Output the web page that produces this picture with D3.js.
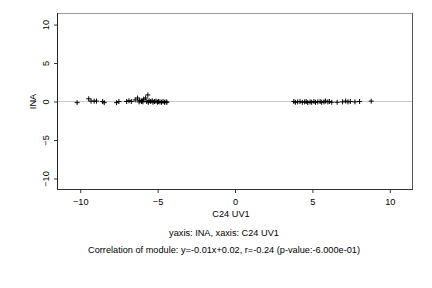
<!DOCTYPE html>
<html>
<head>
<meta charset="utf-8">
<script src="https://cdn.jsdelivr.net/npm/d3@7"></script>
<style>
  body { margin: 0; background: #fff; }
  text { font-family: "Liberation Sans", Arial, sans-serif; fill: #000; }
</style>
</head>
<body>
<div id="chart"></div>
<script>
// data
var xVals = [-10.2, -9.45, -9.3, -9.1, -8.95, -8.55, -8.45, -7.65, -7.5, -7.0, -6.85, -6.7,
    -6.45, -6.3, -6.15, -6.05, -5.9, -5.78, -5.63, -5.55, -5.45, -5.35, -5.3, -5.2, -5.1,
    -5.0, -4.95, -4.85, -4.75, -4.65, -4.55, -4.45, -4.4, -5.7, -5.95, -6.2, -6.0, -5.6,
    3.8, 3.9, 4.05, 4.2, 4.35, 4.5, 4.6, 4.7, 4.85, 4.95, 5.1, 5.2, 5.35, 5.5, 5.6, 5.75,
    5.85, 6.0, 6.1, 6.25, 6.6, 6.95, 7.15, 7.3, 7.45, 7.75, 8.05, 8.8];
var yVals = [-0.15, 0.35, 0.05, 0.05, 0.05, 0.0, -0.15, -0.15, 0.0, 0.0, 0.1, 0.0,
    0.2, 0.45, 0.15, 0.0, 0.3, 0.45, 0.85, 0.1, 0.0, 0.1, -0.1, 0.0, 0.05,
    -0.1, 0.0, -0.05, -0.1, 0.0, -0.1, -0.05, -0.1, 0.0, -0.05, -0.05, 0.1, -0.1,
    0.0, -0.1, -0.05, 0.0, -0.1, -0.05, 0.0, -0.15, -0.05, -0.1, 0.0, -0.1, -0.05, 0.0, -0.1, -0.05,
    0.05, -0.05, 0.0, -0.1, -0.1, -0.05, 0.05, -0.05, 0.0, -0.05, 0.0, 0.05];
var xTicks = [-10, -5, 0, 5, 10];
var yTicks = [-10, -5, 0, 5, 10];
var xLabel = "C24 UV1";
var yLabel = "INA";
var subLines = ["yaxis: INA, xaxis: C24 UV1",
    "Correlation of module: y=-0.01x+0.02, r=-0.24 (p-value:-6.000e-01)"];

var svgWidth = 432;
var svgHeight = 288;
var margin = { top: 13, right: 19, bottom: 98, left: 57 };
var width = svgWidth - margin.left - margin.right;
var height = svgHeight - margin.top - margin.bottom;
var fs = "9.2px";

var svg = d3.select("#chart")
    .append("svg")
    .attr("width", svgWidth)
    .attr("height", svgHeight);

var chartGroup = svg.append("g")
    .attr("transform", `translate(${margin.left}, ${margin.top})`);

var x = d3.scaleLinear().domain([-11.5, 11.5]).range([0, width]);
var y = d3.scaleLinear().domain([-11.5, 11.5]).range([height, 0]);

// zero line
chartGroup.append("line")
    .attr("x1", 0).attr("x2", width)
    .attr("y1", y(0)).attr("y2", y(0))
    .attr("stroke", "#c8c8c8")
    .attr("stroke-width", 1);

// frame
chartGroup.append("line")
    .attr("x1", 0).attr("x2", width).attr("y1", 0.5).attr("y2", 0.5)
    .attr("stroke", "#999");
chartGroup.append("line")
    .attr("x1", width - 0.5).attr("x2", width - 0.5).attr("y1", 0).attr("y2", height)
    .attr("stroke", "#555");
chartGroup.append("line")
    .attr("x1", 0.5).attr("x2", 0.5).attr("y1", 0).attr("y2", height)
    .attr("stroke", "#222");
chartGroup.append("line")
    .attr("x1", 0).attr("x2", width).attr("y1", height - 0.5).attr("y2", height - 0.5)
    .attr("stroke", "#333");

// axes
var xAxis = chartGroup.append("g")
    .attr("transform", `translate(0, ${height})`)
    .call(d3.axisBottom(x).tickValues(xTicks).tickSize(3).tickPadding(5));
var yAxis = chartGroup.append("g")
    .call(d3.axisLeft(y).tickValues(yTicks).tickSize(3).tickPadding(5));

[xAxis, yAxis].forEach(function(g) {
    g.select(".domain").remove();
    g.selectAll("line").attr("stroke", "#333");
    g.selectAll("text").style("font-size", fs).attr("font-family", "Liberation Sans, Arial, sans-serif");
});

// y tick labels rotated like R
yAxis.selectAll(".tick text")
    .attr("transform", "rotate(-90)")
    .attr("x", 0)
    .attr("y", -8)
    .attr("dy", "0")
    .attr("text-anchor", "middle");

// points as plus signs
var pts = xVals.map(function(v, i) { return [v, yVals[i]]; });
var arm = 2.5;
var pg = chartGroup.selectAll(".pt")
    .data(pts)
    .enter()
    .append("g")
    .attr("class", "pt")
    .attr("transform", d => `translate(${x(d[0])}, ${y(d[1])})`);
pg.append("line").attr("x1", -arm).attr("x2", arm).attr("y1", 0).attr("y2", 0)
    .attr("stroke", "#000").attr("stroke-width", 1);
pg.append("line").attr("x1", 0).attr("x2", 0).attr("y1", -arm).attr("y2", arm)
    .attr("stroke", "#000").attr("stroke-width", 1);

// axis labels
chartGroup.append("text")
    .attr("x", x(0) - 4)
    .attr("y", height + 27)
    .attr("text-anchor", "middle")
    .style("font-size", fs)
    .text(xLabel);

chartGroup.append("text")
    .attr("transform", "rotate(-90)")
    .attr("x", -y(0))
    .attr("y", -21)
    .attr("text-anchor", "middle")
    .style("font-size", fs)
    .text(yLabel);

chartGroup.selectAll(".sub")
    .data(subLines)
    .enter()
    .append("text")
    .attr("class", "sub")
    .attr("x", x(0) - 11)
    .attr("y", (d, i) => height + 46 + i * 17)
    .attr("text-anchor", "middle")
    .style("font-size", fs)
    .text(d => d);
</script>
</body>
</html>
